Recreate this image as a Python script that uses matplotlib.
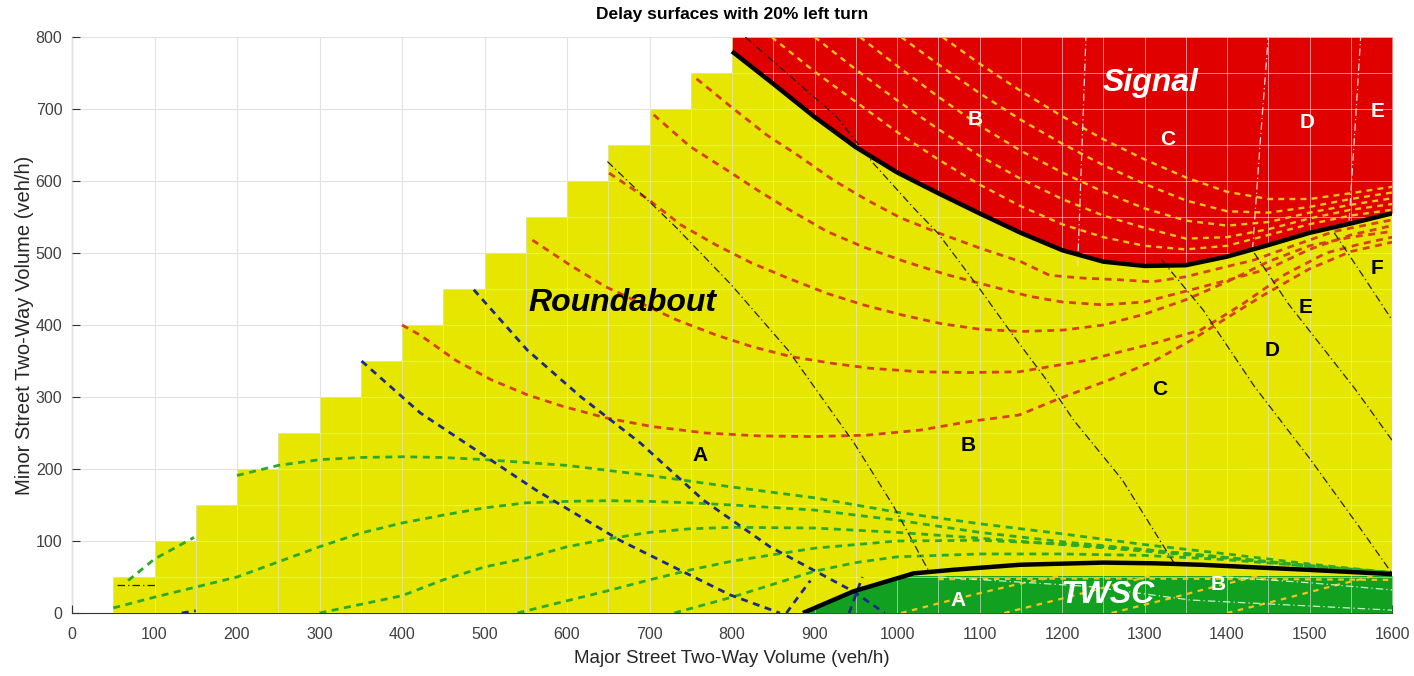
import numpy as np
import matplotlib
matplotlib.use('Agg')
import matplotlib.pyplot as plt
from matplotlib.patches import Polygon

plt.rcParams['font.family'] = ['Liberation Sans', 'DejaVu Sans']

# ── Colours ───────────────────────────────────────────────────────────────────
YEL = '#E6E600'; RED = '#E00000'; GRN = '#12A021'
RDASH = '#D8401A'; GDASH = '#2AAA2A'; YDASH = '#F5C418'; BDASH = '#1C2A86'

# ── Domain (minor <= major, 50 veh/h cells) ───────────────────────────────────
stair_left = [50, 100, 150, 200, 250, 300, 350, 400, 450, 500, 550, 600, 650, 700, 750]
stair_top  = [50, 100, 150, 200, 250, 300, 350, 400, 450, 500, 550, 600, 650, 700, 750]
cell = 50

# ── Region boundaries (thick black) ───────────────────────────────────────────
sig_x = [800, 850, 900, 950, 1000, 1050, 1100, 1150, 1200, 1250, 1300, 1350, 1400, 1450, 1500, 1550, 1600]
sig_y = [780, 735, 689, 647, 612, 583, 555, 528, 504, 488, 482, 483, 495, 511, 528, 541, 555]
twsc_x = [886, 947, 1020, 1068, 1149, 1250, 1313, 1368, 1423, 1498, 1600]
twsc_y = [0, 30, 55, 60, 67, 70, 69, 67, 64, 60, 54]
green_x   = [886, 947, 1010, 1600]
green_top = [0, 30, 52, 52]

# ── Roundabout delay contours (red dashed) ────────────────────────────────────
rab = [
    ([400, 422, 465, 508, 552, 595, 647, 703, 768, 833, 898, 963, 1028, 1088, 1148, 1197, 1258, 1313, 1357, 1400, 1445, 1500, 1550, 1600],
     [400, 386, 351, 324, 303, 287, 271, 259, 250, 246, 245, 247, 254, 266, 275, 298, 324, 351, 379, 410, 442, 478, 502, 515]),
    ([558, 604, 647, 690, 733, 781, 824, 872, 920, 967, 1028, 1088, 1148, 1230, 1313, 1368, 1420, 1470, 1520, 1560, 1600],
     [518, 483, 453, 430, 407, 386, 370, 356, 347, 340, 335, 334, 335, 351, 375, 393, 430, 470, 500, 512, 522]),
    ([651, 699, 738, 781, 824, 868, 915, 959, 1006, 1053, 1101, 1150, 1202, 1250, 1300, 1350, 1400, 1450, 1500, 1550, 1600],
     [611, 574, 539, 511, 486, 465, 444, 428, 414, 402, 394, 391, 393, 400, 415, 435, 460, 488, 510, 522, 530]),
    ([705, 749, 794, 834, 874, 915, 960, 1010, 1060, 1110, 1160, 1200, 1250, 1300, 1350, 1400, 1450, 1500, 1550, 1600],
     [692, 648, 615, 585, 557, 530, 508, 488, 470, 455, 440, 432, 428, 432, 447, 462, 478, 505, 525, 538]),
    ([757, 801, 842, 882, 923, 963, 1004, 1050, 1100, 1150, 1185, 1227, 1267, 1309, 1350, 1392, 1432, 1480, 1530, 1600],
     [742, 701, 664, 634, 601, 574, 549, 528, 507, 488, 469, 465, 463, 460, 467, 479, 490, 510, 530, 546]),
]

# ── Signal delay contours (yellow dashed, inside red) ─────────────────────────
sig_lines = [
    ([848, 900, 950, 1000, 1050, 1100, 1150, 1200, 1250, 1300, 1350, 1400, 1450, 1500, 1550, 1600],
     [800, 752, 710, 668, 630, 595, 565, 540, 522, 510, 505, 510, 525, 540, 552, 560]),
    ([900, 950, 1000, 1050, 1100, 1150, 1200, 1250, 1300, 1350, 1400, 1450, 1500, 1550, 1600],
     [800, 755, 712, 672, 635, 603, 575, 552, 535, 520, 522, 533, 548, 560, 568]),
    ([955, 1000, 1050, 1100, 1150, 1200, 1250, 1300, 1350, 1400, 1450, 1500, 1550, 1600],
     [800, 760, 717, 677, 642, 612, 585, 562, 545, 538, 543, 556, 567, 576]),
    ([1005, 1050, 1100, 1150, 1200, 1250, 1300, 1350, 1400, 1450, 1500, 1550, 1600],
     [800, 762, 722, 685, 652, 622, 596, 573, 558, 556, 564, 575, 584]),
    ([1055, 1100, 1150, 1200, 1250, 1300, 1350, 1400, 1450, 1500, 1550, 1600],
     [800, 763, 725, 690, 658, 630, 605, 585, 575, 575, 583, 592]),
]

# ── TWSC delay contours (green dashed) ────────────────────────────────────────
twsc_lines = [
    ([200, 250, 300, 350, 400, 450, 500, 550, 600, 650, 700, 750, 800, 900, 1000, 1100, 1200, 1300, 1400, 1500, 1600],
     [191, 205, 213, 216, 217, 216, 213, 209, 205, 198, 191, 183, 175, 160, 140, 124, 110, 95, 82, 68, 56]),
    ([50, 100, 150, 200, 250, 300, 350, 400, 450, 500, 550, 600, 650, 700, 750, 800, 900, 1000, 1100, 1200, 1300, 1400, 1500, 1600],
     [7, 22, 36, 50, 71, 92, 111, 125, 136, 146, 153, 155, 156, 155, 153, 150, 143, 129, 112, 99, 88, 77, 66, 56]),
    ([300, 350, 400, 450, 500, 550, 600, 650, 700, 750, 800, 900, 1000, 1100, 1200, 1300, 1400, 1500, 1600],
     [0, 12, 24, 46, 64, 76, 92, 103, 112, 117, 119, 118, 112, 104, 95, 86, 76, 65, 56]),
    ([540, 600, 650, 700, 750, 800, 900, 1000, 1100, 1200, 1300, 1400, 1500, 1600],
     [0, 17, 31, 46, 60, 72, 90, 100, 101, 96, 88, 77, 65, 56]),
    ([730, 800, 850, 900, 950, 1000, 1100, 1200, 1300, 1400, 1500, 1600],
     [0, 22, 40, 58, 70, 78, 82, 82, 80, 74, 65, 56]),
    ([68, 100, 148], [45, 75, 105]),
]
twsc_inner = [
    ([1005, 1080, 1150, 1200], [0, 22, 41, 52]),
    ([1130, 1200, 1260, 1310], [0, 20, 38, 52]),
    ([1260, 1330, 1390, 1440], [0, 20, 38, 52]),
    ([1400, 1470, 1530, 1580], [0, 20, 38, 52]),
    ([1050, 1250, 1450, 1600], [47, 48, 47, 46]),
]
twsc_light = [
    ([1051, 1231, 1356, 1600], [50, 37, 18, 4]),
    ([1399, 1500, 1600], [50, 42, 32]),
]

# ── Other contour sets ────────────────────────────────────────────────────────
blue_lines = [
    ([351, 422, 477, 562, 664, 729, 798, 858], [350, 278, 236, 171, 101, 64, 25, 0]),
    ([487, 552, 617, 689, 765, 846, 947, 985], [449, 365, 300, 236, 157, 92, 30, 0]),
    ([866, 880, 895], [0, 22, 45]),
    ([942, 950, 958], [0, 25, 50]),
    ([133, 150], [0, 3]),
]
dashdot_lines = [
    ([649, 731, 799, 868, 948, 996, 1040], [627, 537, 456, 365, 236, 148, 55]),
    ([816, 871, 927, 971, 1019, 1050, 1101, 1136, 1181, 1214, 1273, 1336],
     [800, 745, 689, 625, 564, 527, 449, 393, 324, 268, 185, 69]),
    ([1321, 1371, 1433, 1500, 1560, 1600], [490, 421, 315, 215, 120, 55]),
    ([1433, 1474, 1515, 1556, 1600], [500, 430, 370, 310, 240]),
    ([1530, 1565, 1600], [528, 468, 407]),
    ([55, 100], [39, 39]),
]
white_dd = [
    ([1219, 1224, 1229], [482, 640, 800]),
    ([1431, 1440, 1450], [505, 650, 800]),
    ([1548, 1555, 1562], [545, 670, 800]),
]

# ── Labels ────────────────────────────────────────────────────────────────────
region_labels = [('Roundabout', 667, 431, 'black'), ('Signal', 1307, 736, 'white'),
                 ('TWSC', 1256, 25, 'white')]
los_labels = [('A', 761, 219, 'black'), ('B', 1086, 232, 'black'), ('C', 1319, 310, 'black'),
              ('D', 1455, 365, 'black'), ('E', 1495, 424, 'black'), ('F', 1582, 479, 'black'),
              ('B', 1095, 685, 'white'), ('C', 1328, 657, 'white'), ('D', 1497, 681, 'white'),
              ('E', 1582, 696, 'white'), ('A', 1074, 18, 'white'), ('B', 1389, 39, 'white')]

# ── Figure ────────────────────────────────────────────────────────────────────
fig = plt.figure(figsize=(14.14, 6.76), dpi=100)
ax = fig.add_axes([72/1414, 63/676, 1320/1414, 576/676])
ax.set_xlim(0, 1600); ax.set_ylim(0, 800)
ax.set_xticks(range(0, 1601, 100)); ax.set_yticks(range(0, 801, 100))
ax.grid(True, color='#E2E2E2', lw=0.8)
ax.set_axisbelow(True)
for s in ['top', 'right']:
    ax.spines[s].set_visible(False)
for s in ['left', 'bottom']:
    ax.spines[s].set_color('#333333'); ax.spines[s].set_linewidth(0.8); ax.spines[s].set_zorder(0.5)
ax.tick_params(direction='in', length=6, width=0.8, color='#333333', labelcolor='#404040',
               labelsize=11.5)
ax.tick_params(axis='x', pad=10)
ax.tick_params(axis='y', pad=7)

# domain staircase
verts = [(stair_left[0], 0)]
for l, t in zip(stair_left, stair_top):
    verts += [(l, t), (l + cell, t)]
verts += [(stair_left[-1] + cell, 800), (1600, 800), (1600, 0)]
dom = Polygon(verts, closed=True, facecolor=YEL, edgecolor='none', zorder=1)
ax.add_patch(dom)

ax.fill_between(sig_x, sig_y, 800, color=RED, lw=0, zorder=1.2)
ax.fill_between(green_x, 0, green_top, color=GRN, lw=0, zorder=1.2)

# surface mesh lines
for xv in range(cell, 1601, cell):
    ln, = ax.plot([xv, xv], [0, 800], color='#E6E6E6', lw=0.7, alpha=0.6, zorder=2)
    ln.set_clip_path(dom)
for yv in range(cell, 801, cell):
    ln, = ax.plot([0, 1600], [yv, yv], color='#E6E6E6', lw=0.7, alpha=0.6, zorder=2)
    ln.set_clip_path(dom)

def draw(lines, color, lw, ls, z=3):
    for x, y in lines:
        ax.plot(x, y, color=color, lw=lw, linestyle=ls, zorder=z)

draw(twsc_inner, YDASH, 1.6, (0, (2.5, 2.5)))
draw(twsc_light, '#C8F5C8', 0.9, (0, (6, 2.5, 1, 2.5)))
draw(sig_lines, YDASH, 1.7, (0, (2.5, 2.2)))
draw(rab, RDASH, 2.0, (0, (2.5, 2.0)))
draw(twsc_lines, GDASH, 2.0, (0, (2.5, 2.0)))
draw(blue_lines, BDASH, 2.0, (0, (2.5, 2.0)))
draw(white_dd, '#F5D8D8', 0.9, (0, (6, 2.5, 1, 2.5)))
draw(dashdot_lines, '#222222', 0.9, (0, (6, 2.5, 1, 2.5)))

ax.plot(sig_x, sig_y, color='black', lw=3.2, zorder=4, solid_capstyle='butt')
ax.plot(twsc_x, twsc_y, color='black', lw=3.2, zorder=4, solid_capstyle='butt')

for txt, x, y, c in region_labels:
    ax.text(x, y, txt, color=c, fontsize=23, fontweight='bold', fontstyle='italic',
            ha='center', va='center', zorder=6)
for txt, x, y, c in los_labels:
    ax.text(x, y, txt, color=c, fontsize=15, fontweight='bold', ha='center', va='center', zorder=6)

ax.set_title('Delay surfaces with 20% left turn', fontsize=12.5, fontweight='bold', pad=13)
ax.set_xlabel('Major Street Two-Way Volume (veh/h)', fontsize=13.5, color='#262626', labelpad=6)
ax.set_ylabel('Minor Street Two-Way Volume (veh/h)', fontsize=14.5, color='#262626', labelpad=1)

fig.savefig('out.png', dpi=100)
